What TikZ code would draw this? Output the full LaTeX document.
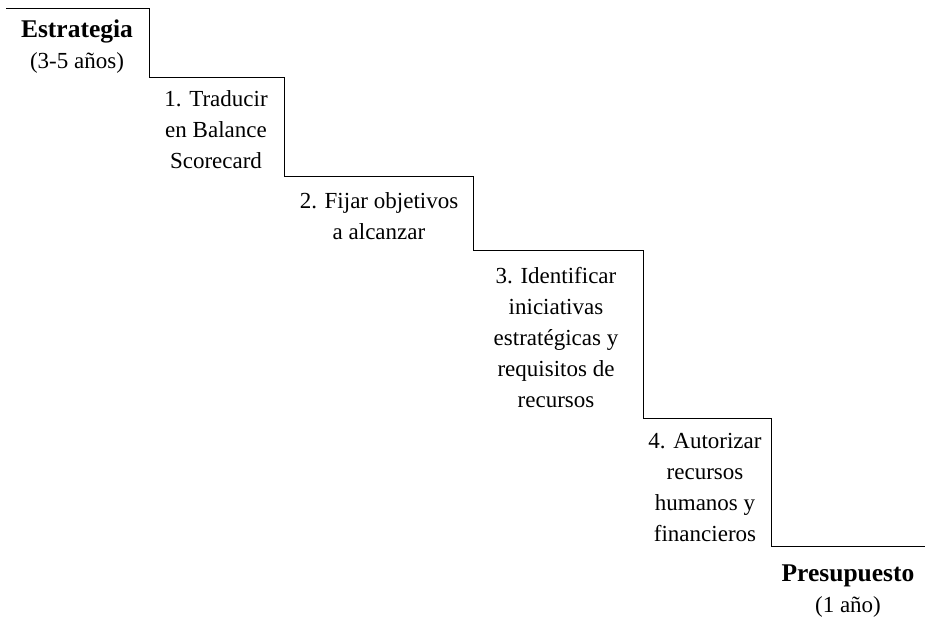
\documentclass[tikz,border=0pt]{standalone}
\usepackage{fontspec}
\setmainfont{Liberation Serif}

\tikzset{
  steptext/.style={align=center, font=\fontsize{23}{31}\selectfont},
  endtext/.style={align=center, font=\fontsize{23}{31}\selectfont}
}
\newcommand{\heading}[1]{{\fontsize{25.5}{31}\selectfont\bfseries #1}}

\begin{document}
\begin{tikzpicture}[x=1pt,y=-1pt]
        \useasboundingbox (0,0) rectangle (925,624);

        \draw[black, line width=0.9pt] (6,8) -- (149,8) -- (149,77) -- (284,77) -- (284,176)
            -- (473,176) -- (473,250) -- (643,250) -- (643,418) -- (771,418) -- (771,546) -- (925,546);

        \node[endtext] (estrategia) at (77,47) {\heading{Estrategia}\\(3-5 años)};
        \node[steptext] (paso1) at (216,130) {1. Traducir\\en Balance\\Scorecard};
        \node[steptext] (paso2) at (379,216) {2. Fijar objetivos\\a alcanzar};
        \node[steptext] (paso3) at (556,338) {3. Identificar\\iniciativas\\estratégicas y\\requisitos de\\recursos};
        \node[steptext] (paso4) at (705,487) {4. Autorizar\\recursos\\humanos y\\financieros};
        \node[endtext] (presupuesto) at (848,591) {\heading{Presupuesto}\\(1 año)};
\end{tikzpicture}
\end{document}
